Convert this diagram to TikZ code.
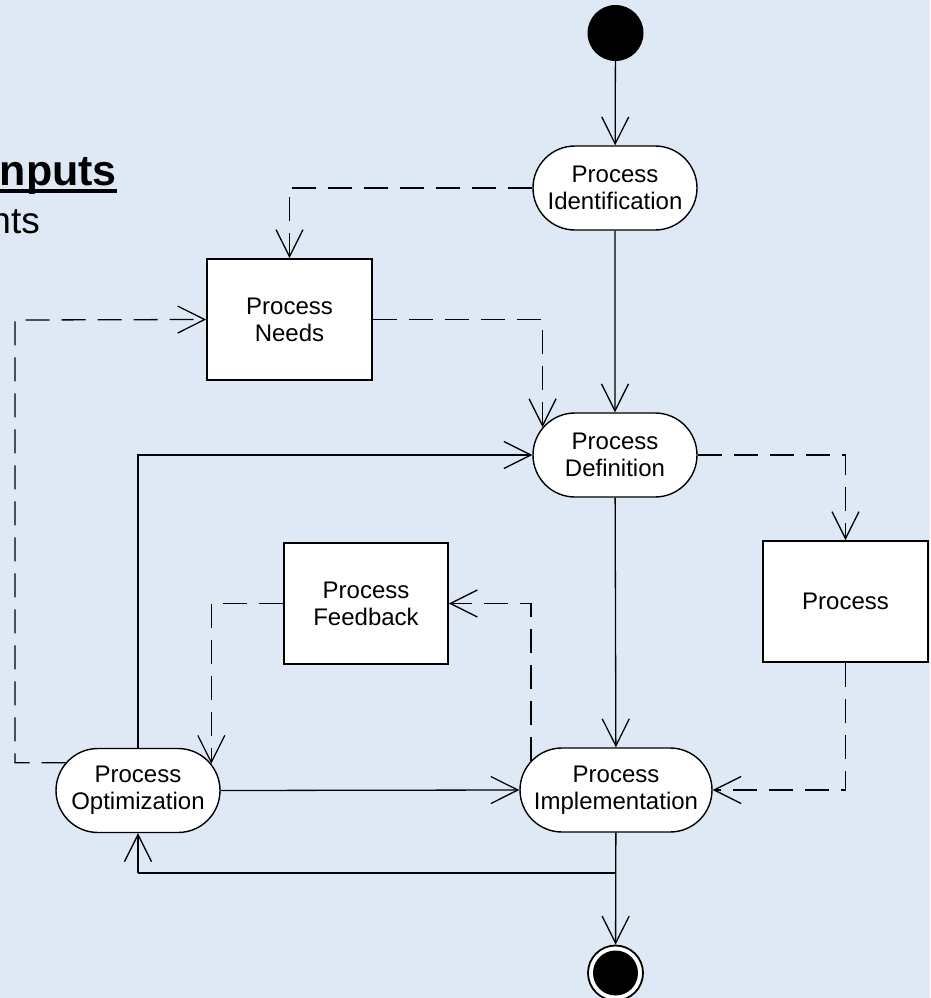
\documentclass[tikz,border=0pt]{standalone}
\usepackage{fontspec}
\setmainfont{Liberation Sans}
\usetikzlibrary{arrows.meta,shapes.misc}
\definecolor{bgblue}{RGB}{223,233,245}
\begin{document}
\begin{tikzpicture}[x=1pt,y=-1pt,
  every node/.style={font=\fontsize{24}{27}\selectfont, align=center},
  activity/.style={rounded rectangle, draw, fill=white, line width=1.4pt,
    minimum height=84pt, minimum width=164pt, inner sep=0pt},
  block/.style={rectangle, draw, fill=white, line width=1.8pt, inner sep=0pt},
  flow/.style={line width=1.3pt, -{Straight Barb[length=27pt,width=27pt,line width=1.3pt]}},
  objflow/.style={flow, dash pattern=on 24pt off 12pt},
  plainflow/.style={line width=1.3pt}]
\useasboundingbox (0,0) rectangle (930,998);
\fill[bgblue] (0,0) rectangle (930,998);
\clip (0,0) rectangle (930,998);

% heading fragments at the left edge
\node[anchor=base east, inner sep=0pt, font=\fontsize{43}{50}\selectfont\bfseries] (hd) at (117,185) {nputs};
\draw[line width=3.8pt] ([yshift=-6pt]hd.base west) -- ([yshift=-6pt]hd.base east);
\node[anchor=base east, inner sep=0pt, font=\fontsize{37}{44}\selectfont] (sub) at (40,233) {nts};

% start and end
\fill (615.5,33) circle (28pt);
\node[circle, minimum size=56pt, inner sep=0pt] (start) at (615.5,33) {};
\node[circle, draw, fill=white, line width=1.8pt, minimum size=55pt, inner sep=0pt] (stop) at (615.5,973) {};
\fill (stop.center) circle (22.5pt);

% activities
\node[activity] (ident) at (615,188) {Process\\Identification};
\node[activity] (def) at (615,455) {Process\\Definition};
\node[activity, minimum width=192pt] (impl) at (616,790) {Process\\Implementation};
\node[activity] (opt) at (138,790.5) {Process\\Optimization};

% objects
\node[block, minimum width=165pt, minimum height=121pt] (needs) at (289.5,319.5) {Process\\Needs};
\node[block, minimum width=164pt, minimum height=121pt] (fb) at (366,603.5) {Process\\Feedback};
\node[block, minimum width=165pt, minimum height=121pt] (proc) at (845.5,601.5) {Process};

% control flow
\draw[flow] (start) -- (ident);
\draw[flow] (ident) -- (def);
\draw[flow] (def) -- (impl);
\draw[flow] (impl) -- (stop);
\draw[flow] (opt.north) |- (def.west);
\draw[flow] (opt.east) -- (impl.west);
\coordinate (ret) at (616,873);
\draw[plainflow] (ret) -- (138,873);
\draw[flow] (138,873) -- (opt.south);

% object flow
\draw[objflow] (ident.west) -| (needs.north);
\draw[objflow] (needs.east) -| (def.159.3);
\coordinate (lk) at (15,320);
\draw[objflow] (opt.159.3) -| (lk) -- (needs.west);
\draw[objflow] (def.east) -| (proc.north);
\draw[objflow] (proc.south) |- (impl.east);
\draw[objflow] (impl.161.6) |- (fb.east);
\draw[objflow] (fb.west) -| (opt.20.7);
\end{tikzpicture}
\end{document}
